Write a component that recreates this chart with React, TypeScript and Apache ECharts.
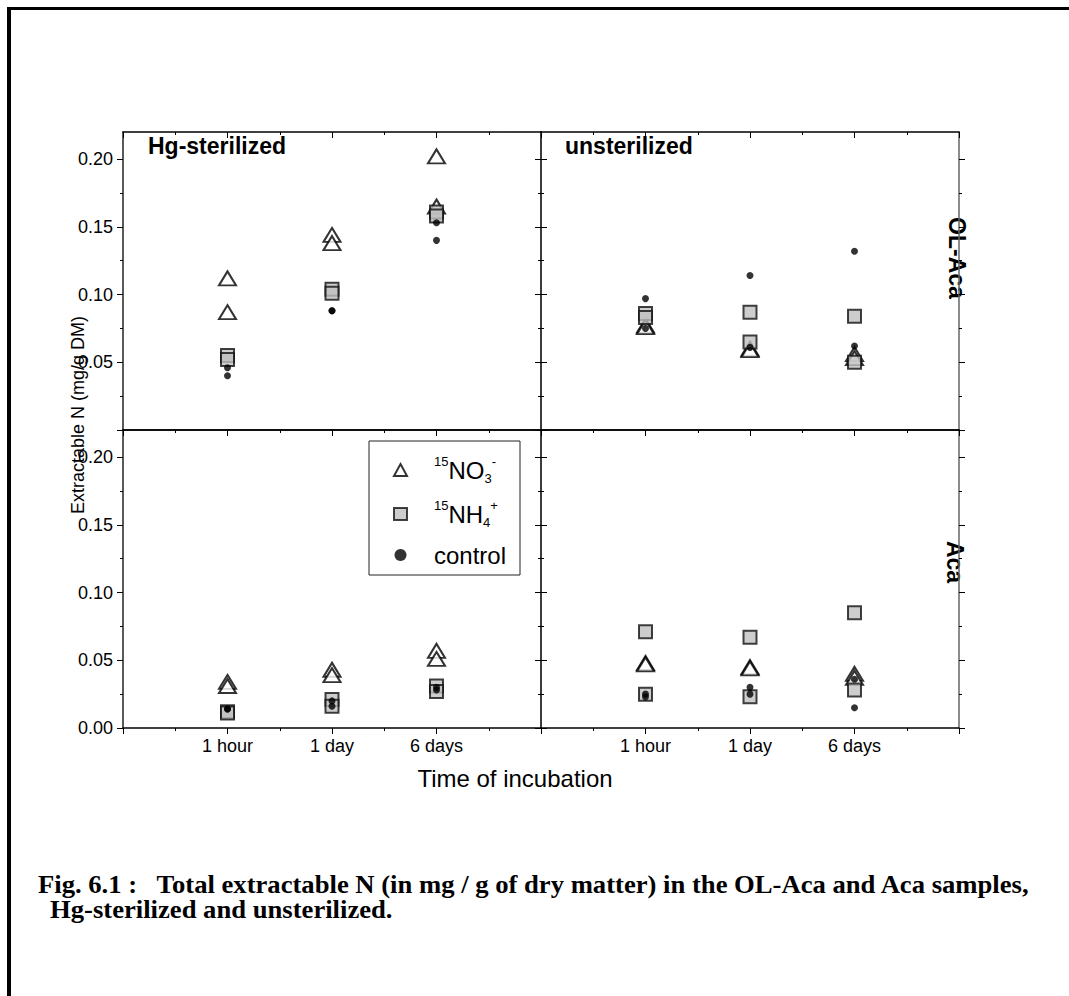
import React, { useEffect, useRef } from 'react';
import * as echarts from 'echarts';

const categories = ['1 hour', '1 day', '6 days'];
const colTitles = ['Hg-sterilized', 'unsterilized'];
const rowTitles = ['OL-Aca', 'Aca'];
const seriesNames = ['15NO3-', '15NH4+', 'control'];
const yMajorTicks = [0, 0.05, 0.1, 0.15, 0.2];
const yMinorTicks = [0.025, 0.075, 0.125, 0.175];
const topLabels = [0.05, 0.1, 0.15, 0.2];
const bottomLabels = [0, 0.05, 0.1, 0.15, 0.2];

// replicate values for [1 hour, 1 day, 6 days]
const hgOlNO3 = [[0.112, 0.087], [0.144, 0.138], [0.202, 0.165]];
const hgOlNH4 = [[0.055, 0.052], [0.104, 0.101], [0.161, 0.158]];
const hgOlCtrl = [[0.046, 0.040], [0.088, 0.088], [0.153, 0.140]];
const unOlNO3 = [[0.077, 0.076], [0.060, 0.059], [0.056, 0.053]];
const unOlNH4 = [[0.086, 0.083], [0.087, 0.065], [0.084, 0.050]];
const unOlCtrl = [[0.097, 0.075], [0.114, 0.061], [0.132, 0.062]];
const hgAcaNO3 = [[0.034, 0.031], [0.043, 0.039], [0.057, 0.051]];
const hgAcaNH4 = [[0.012, 0.011], [0.021, 0.016], [0.031, 0.027]];
const hgAcaCtrl = [[0.014, 0.014], [0.020, 0.016], [0.030, 0.028]];
const unAcaNO3 = [[0.048, 0.047], [0.045, 0.044], [0.040, 0.037]];
const unAcaNH4 = [[0.071, 0.025], [0.067, 0.023], [0.085, 0.028]];
const unAcaCtrl = [[0.025, 0.023], [0.030, 0.025], [0.036, 0.015]];

const panelData = [
  [hgOlNO3, hgOlNH4, hgOlCtrl],
  [unOlNO3, unOlNH4, unOlCtrl],
  [hgAcaNO3, hgAcaNH4, hgAcaCtrl],
  [unAcaNO3, unAcaNH4, unAcaCtrl],
];

const SANS = 'Liberation Sans, Arial, sans-serif';
const SERIF = 'Liberation Serif, Times New Roman, serif';

export default function App() {
  const ref = useRef<HTMLDivElement>(null);

  useEffect(() => {
    if (!ref.current) return;
    const chart = echarts.init(ref.current, undefined, { renderer: 'svg' });

    const grids: any[] = [];
    const xAxes: any[] = [];
    const yAxes: any[] = [];
    const series: any[] = [];

    const symbolStyles = [
      { symbol: 'triangle', symbolSize: [17, 14], itemStyle: { color: '#ffffff', borderColor: '#000', borderWidth: 2 } },
      { symbol: 'rect', symbolSize: 13, itemStyle: { color: '#c0c0c0', borderColor: '#111', borderWidth: 2 } },
      { symbol: 'circle', symbolSize: 7, itemStyle: { color: '#000', borderWidth: 0 } },
    ];

    for (let g = 0; g < 4; g++) {
      const row = Math.floor(g / 2);
      const col = g % 2;
      grids.push({ left: col === 0 ? 123 : 541, top: row === 0 ? 132 : 430, width: 418, height: 298, containLabel: false });

      const xBase = {
        gridIndex: g, type: 'value', min: 0, max: 4, interval: 1,
        splitLine: { show: false },
        minorTick: { show: true, splitNumber: 2, length: 3, lineStyle: { color: '#000', width: 1 } },
      };
      const xBottomIndex = xAxes.length;
      xAxes.push({
        ...xBase, position: 'bottom',
        axisLine: { show: true, onZero: false, lineStyle: { color: '#000', width: 1.5 } },
        axisTick: { show: true, inside: false, length: 6, lineStyle: { color: '#000', width: 1 } },
        axisLabel: {
          show: row === 1, margin: 9, color: '#000', fontSize: 18, fontFamily: SANS,
          formatter: (v: number) => (v >= 1 && v <= 3 ? categories[v - 1] : ''),
        },
      });
      xAxes.push({
        ...xBase, position: 'top',
        axisLine: { show: true, onZero: false, lineStyle: { color: '#000', width: 1.5 } },
        axisTick: { show: true, inside: true, length: 6, lineStyle: { color: '#000', width: 1 } },
        axisLabel: { show: false },
      });

      const yBase = {
        gridIndex: g, type: 'value', min: 0, max: 0.22,
        splitLine: { show: false },
      };
      const yLeftIndex = yAxes.length;
      yAxes.push({
        ...yBase, position: 'left',
        axisLine: { show: true, onZero: false, lineStyle: { color: '#222', width: 1.5 } },
        axisTick: { show: true, inside: false, length: 6, customValues: yMajorTicks, lineStyle: { color: '#000', width: 1 } },
        axisLabel: {
          show: col === 0, margin: 10, color: '#000', fontSize: 18, fontFamily: SANS,
          customValues: row === 0 ? topLabels : bottomLabels,
          formatter: (v: number) => v.toFixed(2),
        },
      });
      yAxes.push({
        ...yBase, position: 'right',
        axisLine: { show: true, onZero: false, lineStyle: { color: '#666', width: 1.5 } },
        axisTick: { show: true, inside: false, length: 6, customValues: yMajorTicks, lineStyle: { color: '#000', width: 1 } },
        axisLabel: { show: false },
      });
      yAxes.push({
        ...yBase, position: 'left',
        axisLine: { show: false, onZero: false },
        axisTick: { show: true, inside: false, length: 3, customValues: yMinorTicks, lineStyle: { color: '#000', width: 1 } },
        axisLabel: { show: false },
      });
      yAxes.push({
        ...yBase, position: 'right',
        axisLine: { show: false, onZero: false },
        axisTick: { show: true, inside: false, length: 3, customValues: yMinorTicks, lineStyle: { color: '#000', width: 1 } },
        axisLabel: { show: false },
      });

      panelData[g].forEach((arr, t) => {
        series.push({
          type: 'scatter',
          name: seriesNames[t],
          xAxisIndex: xBottomIndex,
          yAxisIndex: yLeftIndex,
          ...symbolStyles[t],
          data: arr.flatMap((reps, i) => reps.map((v) => [i + 1, v])),
          z: 2 + t,
        });
      });
    }

    const graphic: any[] = [
      // page frame
      { type: 'rect', shape: { x: 7, y: 7, width: 1062, height: 3 }, style: { fill: '#000' } },
      { type: 'rect', shape: { x: 7, y: 7, width: 4, height: 989 }, style: { fill: '#000' } },
      // legend frame
      { type: 'rect', shape: { x: 369, y: 441, width: 151, height: 134 }, style: { fill: 'transparent', stroke: '#222', lineWidth: 1 } },
      // column titles
      { type: 'text', x: 148, y: 146, style: { text: colTitles[0], fontSize: 23, fontWeight: 'bold', fontFamily: SANS, fill: '#000', align: 'left', verticalAlign: 'middle' } },
      { type: 'text', x: 565, y: 146, style: { text: colTitles[1], fontSize: 23, fontWeight: 'bold', fontFamily: SANS, fill: '#000', align: 'left', verticalAlign: 'middle' } },
      // row titles
      { type: 'text', x: 957, y: 258, rotation: -Math.PI / 2, style: { text: rowTitles[0], fontSize: 23, fontWeight: 'bold', fontFamily: SANS, fill: '#000', align: 'center', verticalAlign: 'middle' } },
      { type: 'text', x: 955, y: 562, rotation: -Math.PI / 2, style: { text: rowTitles[1], fontSize: 23, fontWeight: 'bold', fontFamily: SANS, fill: '#000', align: 'center', verticalAlign: 'middle' } },
      // axis titles
      { type: 'text', x: 78, y: 415, rotation: Math.PI / 2, style: { text: 'Extractable N (mg/g DM)', fontSize: 18, fontFamily: SANS, fill: '#000', align: 'center', verticalAlign: 'middle' } },
      { type: 'text', x: 515, y: 778, style: { text: 'Time of incubation', fontSize: 24, fontFamily: SANS, fill: '#000', align: 'center', verticalAlign: 'middle' } },
      // caption
      { type: 'text', x: 38, y: 885, scaleX: 1.025, style: { text: 'Fig. 6.1 :   Total extractable N (in mg / g of dry matter) in the OL-Aca and Aca samples,', fontSize: 26, fontWeight: 'bold', fontFamily: SERIF, fill: '#000', align: 'left', verticalAlign: 'middle' } },
      { type: 'text', x: 50, y: 910, scaleX: 1.025, style: { text: 'Hg-sterilized and unsterilized.', fontSize: 26, fontWeight: 'bold', fontFamily: SERIF, fill: '#000', align: 'left', verticalAlign: 'middle' } },
    ];

    chart.setOption({
      animation: false,
      backgroundColor: '#ffffff',
      grid: grids,
      xAxis: xAxes,
      yAxis: yAxes,
      series,
      legend: {
        orient: 'vertical',
        left: 393,
        top: 455,
        padding: 0,
        itemWidth: 13,
        itemHeight: 12,
        itemGap: 14,
        data: seriesNames,
        selectedMode: false,
        formatter: (name: string) => {
          if (name === '15NO3-') return '{g|}{s|15}{b|NO}{d|3}{s|-}';
          if (name === '15NH4+') return '{g|}{s|15}{b|NH}{d|4}{s|+}';
          return '{g|}{b|control}';
        },
        textStyle: {
          color: '#000',
          fontFamily: SANS,
          rich: {
            g: { width: 22 },
            s: { fontSize: 13, lineHeight: 13, verticalAlign: 'top', fontFamily: SANS, color: '#000' },
            b: { fontSize: 24, lineHeight: 30, fontFamily: SANS, color: '#000' },
            d: { fontSize: 13, lineHeight: 13, verticalAlign: 'bottom', fontFamily: SANS, color: '#000' },
          },
        },
      },
      graphic,
    });

    return () => chart.dispose();
  }, []);

  return (
    <div
      ref={ref}
      style={{ position: 'fixed', left: 0, top: 0, width: 1069, height: 996, background: '#fff' }}
    />
  );
}
